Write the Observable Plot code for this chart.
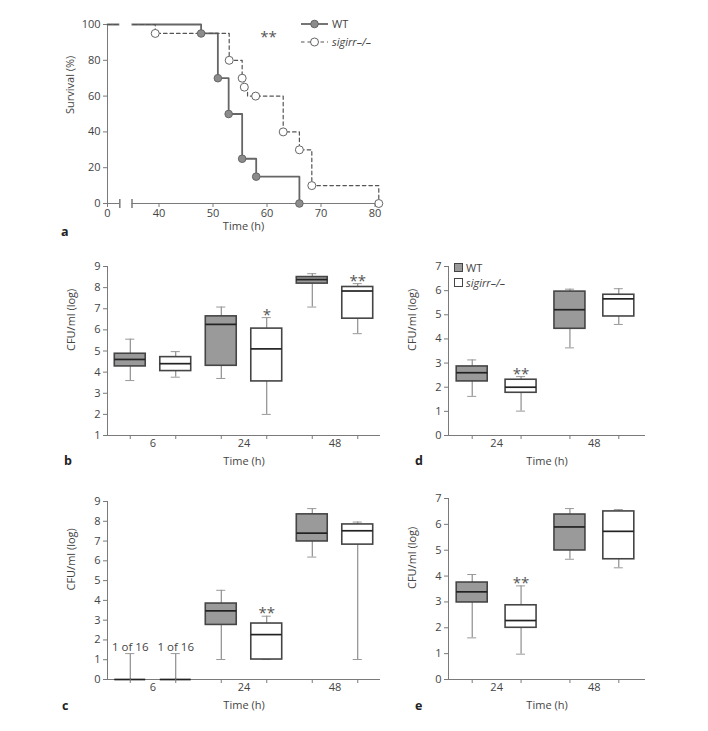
<!DOCTYPE html>
<html><head><meta charset="utf-8">
<script src="https://cdn.jsdelivr.net/npm/d3@7"></script>
<script src="https://cdn.jsdelivr.net/npm/@observablehq/plot@0.6"></script>
<style>
body{margin:0;background:#fff;}
#wrap{position:relative;width:708px;height:731px;overflow:hidden;font-family:"Open Sans","Noto Sans",sans-serif;color:#444;}
#wrap svg.layer{position:absolute;left:0;top:0;}
.plbl{position:absolute;font-weight:bold;font-size:12.5px;color:#222;line-height:1;}
.leg{position:absolute;font-size:11px;color:#444;line-height:1;white-space:nowrap;}
</style></head><body><div id="wrap"></div><script>
// ---------- data ----------
const groups = ["WT", "sigirr–/–"];
// Panel a: survival
const wtTime = [0, 47.8, 50.9, 52.9, 55.4, 58.0, 66.0];
const wtSurv = [100, 95, 70, 50, 25, 15, 0];
const wtMarkTime = [47.8, 50.9, 52.9, 55.4, 58.0, 66.0];
const wtMarkSurv = [95, 70, 50, 25, 15, 0];
const koTime = [0, 39.3, 53.0, 55.4, 55.7, 56.4, 63.0, 66.0, 68.3, 80.7];
const koSurv = [100, 95, 80, 70, 65, 60, 40, 30, 10, 0];
const koMarkTime = [39.3, 53.0, 55.4, 55.8, 57.9, 63.0, 66.0, 68.3, 80.7];
const koMarkSurv = [95, 80, 70, 65, 60, 40, 30, 10, 0];
const survTicksX = [0, 40, 50, 60, 70, 80];
const survTicksY = [0, 20, 40, 60, 80, 100];
const axisBreak = [33, 35];
const survSig = [{t: 60.3, s: 93, label: "**"}];

// Box panels (order: 6 WT, 6 KO, 24 WT, 24 KO, 48 WT, 48 KO)
const timesBC = ["6", "24", "48"];
const timesDE = ["24", "48"];
const bMin = [3.60, 3.76, 3.70, 2.00, 7.08, 5.82];
const bQ1  = [4.27, 4.05, 4.30, 3.56, 8.19, 6.53];
const bMed = [4.60, 4.40, 6.26, 5.10, 8.38, 7.84];
const bQ3  = [4.87, 4.71, 6.64, 6.06, 8.50, 8.03];
const bMax = [5.56, 4.97, 7.08, 6.58, 8.66, 8.19];
const bSig = ["", "", "", "*", "", "**"];

const cMin = [0, 0, 1.01, 1.01, 6.19, 1.01];
const cQ1  = [0, 0, 2.76, 1.01, 6.98, 6.82];
const cMed = [0, 0, 3.47, 2.27, 7.40, 7.52];
const cQ3  = [0, 0, 3.84, 2.83, 8.35, 7.84];
const cMax = [1.31, 1.31, 4.51, 3.20, 8.64, 7.96];
const cSig = ["", "", "", "**", "", ""];
const cNote = ["1 of 16", "1 of 16", "", "", "", ""];

const dMin = [1.62, 1.01, 3.63, 4.60];
const dQ1  = [2.24, 1.77, 4.42, 4.93];
const dMed = [2.60, 2.00, 5.21, 5.66];
const dQ3  = [2.86, 2.31, 5.96, 5.83];
const dMax = [3.13, 2.44, 6.06, 6.08];
const dSig = ["", "**", "", ""];

const eMin = [1.61, 0.98, 4.65, 4.32];
const eQ1  = [2.98, 2.00, 4.99, 4.65];
const eMed = [3.39, 2.28, 5.90, 5.73];
const eQ3  = [3.75, 2.87, 6.38, 6.50];
const eMax = [4.06, 3.62, 6.61, 6.57];
const eSig = ["", "**", "", ""];

// ---------- drawing ----------
const W = 708, H = 731;
const AXIS = "#7a7a7a";
const TXT = "#444";
const FONT = "'Open Sans', 'Noto Sans', sans-serif";
const baseStyle = {background: "transparent", fontFamily: FONT, fontSize: "11px", color: TXT, overflow: "visible"};
const wrap = document.getElementById("wrap");
function layer(p) { p.classList.add("layer"); wrap.appendChild(p); }
const vbar = {draw(ctx) { ctx.moveTo(0, -4.5); ctx.lineTo(0, 4.5); }};
const intFmt = d => String(d);

// Panel a
const wt = wtTime.map((t, i) => ({t, s: wtSurv[i]}));
const ko = koTime.map((t, i) => ({t, s: koSurv[i]}));
const wtM = wtMarkTime.map((t, i) => ({t, s: wtMarkSurv[i]}));
const koM = koMarkTime.map((t, i) => ({t, s: koMarkSurv[i]}));
layer(Plot.plot({
  width: W, height: H,
  marginLeft: 107, marginRight: W - 379, marginTop: 24, marginBottom: H - 203,
  style: baseStyle,
  x: {type: "linear", domain: [0, axisBreak[0], axisBreak[1], 81], range: [107, 119.3, 131.5, 379.9], label: null},
  y: {domain: [0, 100], label: null},
  marks: [
    Plot.ruleY([0], {stroke: AXIS}),
    Plot.ruleX([0], {stroke: AXIS}),
    Plot.line(wt, {x: "t", y: "s", curve: "step-after", stroke: "#666", strokeWidth: 1.8}),
    Plot.line(ko, {x: "t", y: "s", curve: "step-after", stroke: "#555", strokeWidth: 1.2, strokeDasharray: "3.5,3"}),
    Plot.rect([axisBreak], {x1: d => d[0], x2: d => d[1], y1: 0, y2: 100, fill: "white", insetTop: -3, insetBottom: -3}),
    Plot.dot(axisBreak, {x: d => d, y: 0, symbol: vbar, fill: "none", stroke: AXIS}),
    Plot.dot(wtM, {x: "t", y: "s", r: 3.8, fill: "#8c8c8c", stroke: "#666", strokeWidth: 1}),
    Plot.dot(koM, {x: "t", y: "s", r: 4, fill: "white", stroke: "#666", strokeWidth: 1}),
    Plot.text(survSig, {x: "t", y: "s", text: "label", fontSize: 15, fill: "#555", letterSpacing: 1.5}),
    Plot.axisX({ticks: survTicksX, tickSize: 4, tickPadding: 2, tickFormat: intFmt, stroke: AXIS, label: null}),
    Plot.axisY({ticks: survTicksY, tickSize: 4, tickPadding: 3, tickFormat: intFmt, stroke: AXIS, label: null}),
    Plot.text(["Time (h)"], {text: d => d, frameAnchor: "bottom", dy: 26}),
    Plot.text(["Survival (%)"], {text: d => d, frameAnchor: "left", rotate: -90, dx: -37})
  ]
}));

function boxPanel(cfg) {
  const {times, mins, q1s, meds, q3s, maxs, sigs, notes, yDomain, frame, xDomain, half, cap} = cfg;
  const rows = mins.map((mn, i) => ({pos: i, group: groups[i % 2], min: mn, q1: q1s[i], med: meds[i], q3: q3s[i], max: maxs[i], sig: sigs[i], note: notes ? notes[i] : ""}));
  const yTicks = d3.range(yDomain[0], yDomain[1] + 1);
  return Plot.plot({
    width: W, height: H,
    marginLeft: frame.left, marginRight: W - frame.right, marginTop: frame.top, marginBottom: H - frame.bottom,
    style: baseStyle,
    x: {domain: xDomain, label: null},
    y: {domain: yDomain, label: null},
    marks: [
      Plot.ruleX([xDomain[0]], {stroke: AXIS}),
      Plot.ruleY([yDomain[0]], {stroke: AXIS}),
      Plot.ruleX(rows, {x: "pos", y1: "min", y2: "max", stroke: "#777"}),
      Plot.ruleY(rows, {y: "min", x1: d => d.pos - cap, x2: d => d.pos + cap, stroke: "#999"}),
      Plot.ruleY(rows, {y: "max", x1: d => d.pos - cap, x2: d => d.pos + cap, stroke: "#999"}),
      Plot.rect(rows.filter(d => d.group === "WT"), {x1: d => d.pos - half, x2: d => d.pos + half, y1: "q1", y2: "q3", fill: "#9a9a9a", stroke: "#454545", strokeWidth: 1.6}),
      Plot.rect(rows.filter(d => d.group !== "WT"), {x1: d => d.pos - half, x2: d => d.pos + half, y1: "q1", y2: "q3", fill: "white", stroke: "#454545", strokeWidth: 1.6}),
      Plot.ruleY(rows, {y: "med", x1: d => d.pos - half, x2: d => d.pos + half, stroke: "#222", strokeWidth: 1.7}),
      Plot.text(rows.filter(d => d.sig), {x: "pos", y: "max", text: "sig", lineAnchor: "bottom", dy: 2, fontSize: 15, fill: "#555", letterSpacing: 1.5}),
      Plot.text(rows.filter(d => d.note), {x: "pos", y: "max", text: "note", lineAnchor: "bottom", dy: -3, fontSize: 11.5}),
      Plot.axisX({ticks: rows.map(d => d.pos), tickSize: 4, tickFormat: () => "", stroke: AXIS, label: null}),
      Plot.axisX({ticks: times.map((_, k) => 2 * k + 0.5), tickSize: 0, tickPadding: 4, tickFormat: d => times[Math.round((d - 0.5) / 2)], label: null}),
      Plot.axisY({ticks: yTicks, tickSize: 4, tickPadding: 3, tickFormat: intFmt, stroke: AXIS, label: null}),
      Plot.text(["Time (h)"], {text: d => d, frameAnchor: "bottom", dy: 29}),
      Plot.text(["CFU/ml (log)"], {text: d => d, frameAnchor: "left", rotate: -90, dx: -36})
    ]
  });
}

layer(boxPanel({times: timesBC, mins: bMin, q1s: bQ1, meds: bMed, q3s: bQ3, maxs: bMax, sigs: bSig,
  yDomain: [1, 9], frame: {left: 107, right: 380, top: 266, bottom: 435}, xDomain: [-0.5, 5.5], half: 0.34, cap: 0.1}));
layer(boxPanel({times: timesBC, mins: cMin, q1s: cQ1, meds: cMed, q3s: cQ3, maxs: cMax, sigs: cSig, notes: cNote,
  yDomain: [0, 9], frame: {left: 107, right: 380, top: 501, bottom: 679}, xDomain: [-0.5, 5.5], half: 0.34, cap: 0.1}));
layer(boxPanel({times: timesDE, mins: dMin, q1s: dQ1, meds: dMed, q3s: dQ3, maxs: dMax, sigs: dSig,
  yDomain: [0, 7], frame: {left: 448, right: 645, top: 266, bottom: 435}, xDomain: [-0.485, 3.546], half: 0.317, cap: 0.092}));
layer(boxPanel({times: timesDE, mins: eMin, q1s: eQ1, meds: eMed, q3s: eQ3, maxs: eMax, sigs: eSig,
  yDomain: [0, 7], frame: {left: 448, right: 645, top: 498, bottom: 679}, xDomain: [-0.485, 3.546], half: 0.317, cap: 0.092}));

// legends and panel letters
function addHTML(html) { const d = document.createElement("div"); d.innerHTML = html; while (d.firstChild) wrap.appendChild(d.firstChild); }
addHTML(`<svg style="position:absolute;left:298px;top:16px" width="34" height="34">
  <line x1="3" x2="30" y1="8" y2="8" stroke="#666" stroke-width="1.8"/>
  <circle cx="16.5" cy="8" r="3.8" fill="#8c8c8c" stroke="#666"/>
  <line x1="3" x2="30" y1="26" y2="26" stroke="#555" stroke-width="1.2" stroke-dasharray="3.5,3"/>
  <circle cx="16.5" cy="26" r="4" fill="white" stroke="#666"/></svg>
<div class="leg" style="left:332px;top:18px">${groups[0]}</div>
<div class="leg" style="left:332px;top:36px;font-style:italic">${groups[1]}</div>
<svg style="position:absolute;left:452px;top:262px" width="14" height="30">
  <rect x="2.5" y="1.5" width="8" height="8" fill="#9a9a9a" stroke="#444"/>
  <rect x="2.5" y="16.5" width="8" height="8" fill="white" stroke="#444"/></svg>
<div class="leg" style="left:466px;top:262px">${groups[0]}</div>
<div class="leg" style="left:466px;top:277px;font-style:italic">${groups[1]}</div>
<div class="plbl" style="left:61px;top:226px">a</div>
<div class="plbl" style="left:64px;top:455px">b</div>
<div class="plbl" style="left:62px;top:700px">c</div>
<div class="plbl" style="left:415px;top:455px">d</div>
<div class="plbl" style="left:415px;top:700px">e</div>`);
</script></body></html>
